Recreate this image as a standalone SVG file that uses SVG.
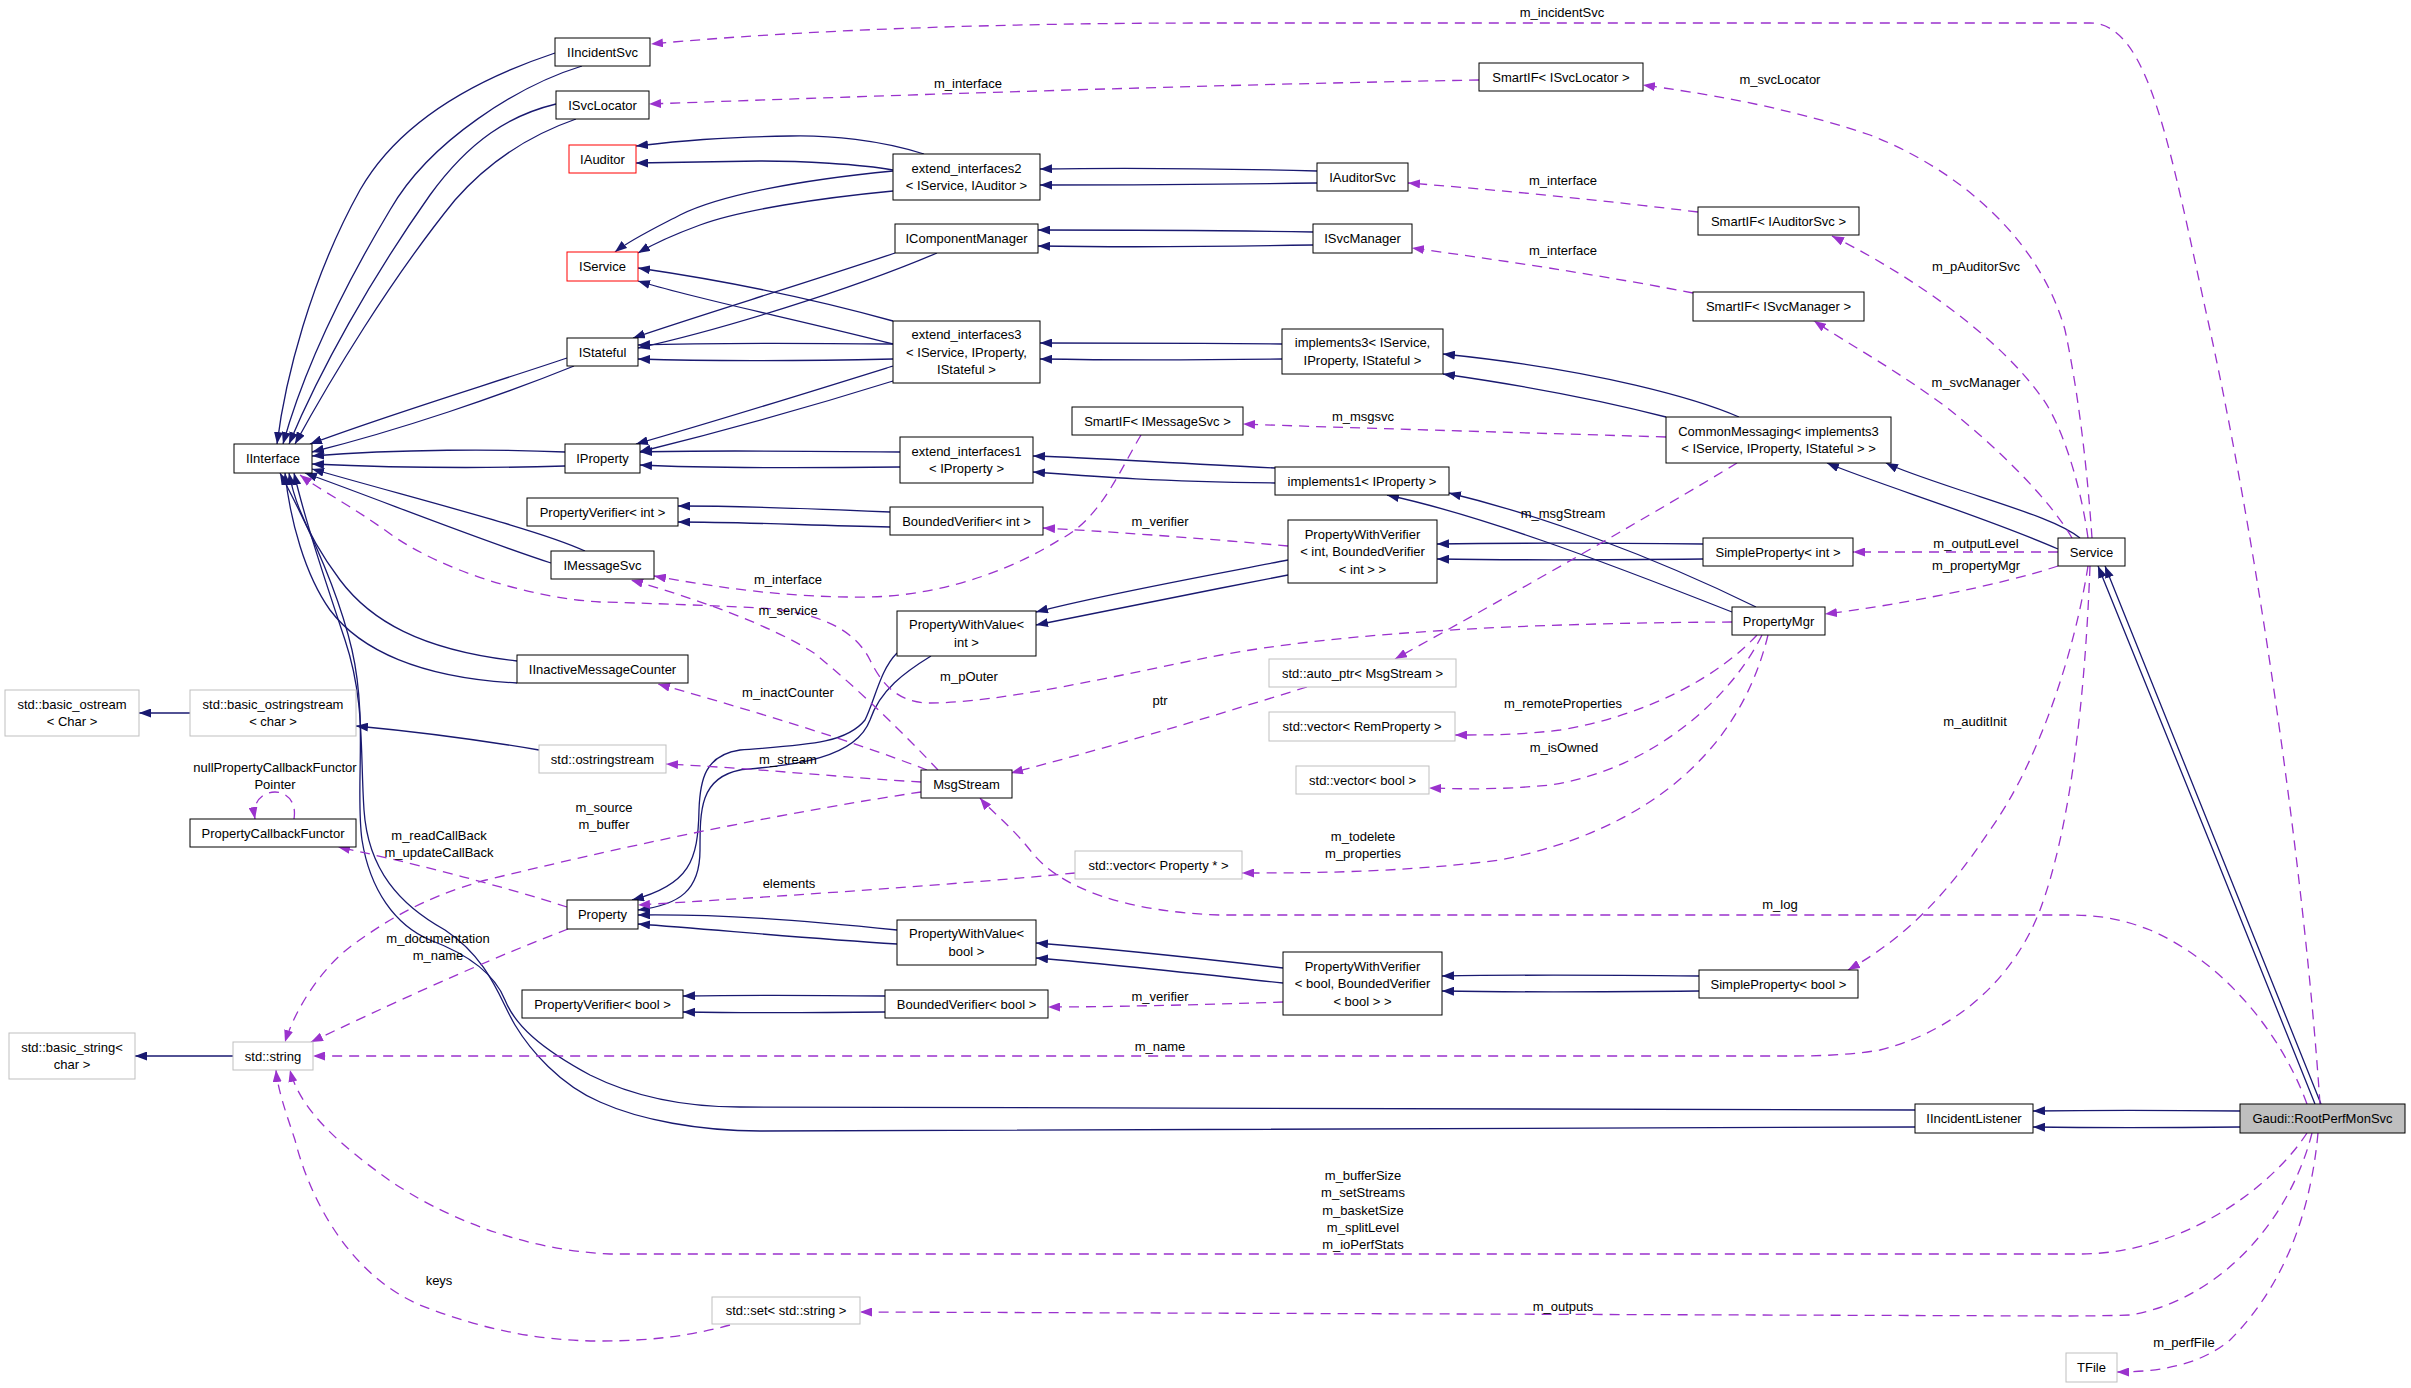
<svg xmlns="http://www.w3.org/2000/svg" width="2411" height="1388" viewBox="0 0 2411 1388">
<defs>
<style>
text{font-family:"Liberation Sans",Arial,sans-serif;font-size:13px;fill:#000}
.n text{text-anchor:middle}
.lb text{text-anchor:middle}
rect{fill:#fff;stroke:#000;stroke-width:1}
.g rect{stroke:#bfbfbf}
.r rect{stroke:#ff0000}
.root rect{fill:#bfbfbf}
.inh path{fill:none;stroke:#191970;stroke-width:1.3;marker-end:url(#an)}
.use path{fill:none;stroke:#9a32cd;stroke-width:1.3;stroke-dasharray:10,7;marker-end:url(#ap)}
</style>
<marker id="an" viewBox="0 0 12 9" refX="12" refY="4.5" markerWidth="12" markerHeight="9" markerUnits="userSpaceOnUse" orient="auto"><path d="M0,0 L12,4.5 L0,9 z" fill="#191970"/></marker>
<marker id="ap" viewBox="0 0 12 9" refX="12" refY="4.5" markerWidth="12" markerHeight="9" markerUnits="userSpaceOnUse" orient="auto"><path d="M0,0 L12,4.5 L0,9 z" fill="#9a32cd"/></marker>
</defs>
<rect x="0" y="0" width="2411" height="1388" style="fill:#fff;stroke:none"/>

<g id="connectors">
<g class="inh">
<path d="M555,53 C480,78 400,120 360,190 C310,280 285,380 277,444"/>
<path d="M582,66 C520,85 430,140 390,210 C330,310 298,390 283,444"/>
<path d="M556,104 C510,115 470,140 430,195 C370,280 320,370 289,444"/>
<path d="M576,119 C530,135 490,160 455,200 C390,280 330,380 295,444"/>
<path d="M567,358 C490,384 390,414 310,444"/>
<path d="M574,366 C500,396 400,430 312,452"/>
<path d="M565,452 C500,449 400,449 312,456"/>
<path d="M565,466 C500,468 400,468 312,464"/>
<path d="M585,551 C540,530 420,500 312,469"/>
<path d="M551,563 C480,540 380,500 305,473"/>
<path d="M517,661 C420,650 370,620 340,580 C310,540 295,505 289,473"/>
<path d="M517,683 C420,678 360,650 330,610 C305,575 290,520 285,473"/>
<path d="M1915,1110 L740,1107 C680,1107 630,1095 590,1075 C540,1048 515,1025 505,1000 C495,975 470,955 430,940 C395,925 370,890 362,840 C355,790 368,720 352,650 C338,590 305,520 280,473"/>
<path d="M1915,1127 L760,1131 C700,1131 640,1120 600,1102 C560,1085 530,1050 515,1025 C500,1000 490,960 445,930 C400,905 368,870 364,810 C360,750 365,700 345,640 C325,580 305,520 294,473"/>
<path d="M924,154 C880,140 830,135 790,136 C720,137 680,141 636,146"/>
<path d="M893,170 C860,164 800,161 760,161 C700,162 660,163 636,163"/>
<path d="M893,171 C800,180 720,195 680,215 C655,228 630,240 615,252"/>
<path d="M893,191 C820,198 740,210 700,225 C670,236 655,243 638,253"/>
<path d="M895,253 C800,285 700,315 633,338"/>
<path d="M937,253 C850,290 720,330 638,348"/>
<path d="M893,321 C800,295 720,280 638,268"/>
<path d="M893,344 C800,320 700,300 638,281"/>
<path d="M893,344 C800,343 700,343 638,345"/>
<path d="M893,359 C800,361 700,361 638,359"/>
<path d="M893,366 C800,395 720,420 636,444"/>
<path d="M893,381 C800,410 720,432 639,452"/>
<path d="M900,452 C800,451 700,450 640,452"/>
<path d="M900,467 C800,468 700,468 640,465"/>
<path d="M1317,171 C1200,168 1100,168 1040,169"/>
<path d="M1317,183 C1200,185 1100,185 1040,185"/>
<path d="M1313,232 C1200,230 1100,230 1038,230"/>
<path d="M1313,245 C1200,247 1100,247 1038,246"/>
<path d="M1282,344 C1200,343 1100,343 1040,343"/>
<path d="M1282,359 C1200,360 1100,360 1040,359"/>
<path d="M1739,417 C1700,400 1600,370 1443,354"/>
<path d="M1666,417 C1600,400 1520,385 1443,374"/>
<path d="M1275,468 C1150,462 1100,458 1033,456"/>
<path d="M1275,483 C1150,481 1100,477 1033,472"/>
<path d="M1756,607 C1650,555 1540,515 1449,493"/>
<path d="M1732,612 C1600,560 1480,515 1387,495"/>
<path d="M1703,544 C1600,543 1500,543 1437,544"/>
<path d="M1703,559 C1600,560 1500,560 1437,559"/>
<path d="M1288,560 C1200,577 1100,595 1036,612"/>
<path d="M1288,575 C1200,592 1100,612 1036,625"/>
<path d="M890,512 C800,508 740,506 678,506"/>
<path d="M890,527 C800,525 740,522 678,522"/>
<path d="M190,713 L139,713"/>
<path d="M539,750 C480,740 420,732 356,726"/>
<path d="M233,1056 L135,1056"/>
<path d="M2080,538 C2060,522 2020,510 1960,490 C1930,480 1900,470 1886,463"/>
<path d="M2058,549 C1980,515 1880,485 1827,463"/>
<path d="M2315,1104 C2250,940 2160,720 2098,566"/>
<path d="M2321,1104 C2256,940 2166,720 2105,566"/>
<path d="M2240,1111 C2150,1110 2100,1110 2033,1111"/>
<path d="M2240,1127 C2150,1128 2100,1128 2033,1127"/>
<path d="M1699,976 C1600,975 1500,975 1442,976"/>
<path d="M1699,991 C1600,992 1500,992 1442,991"/>
<path d="M1283,968 C1180,956 1100,948 1036,943"/>
<path d="M1283,983 C1180,972 1100,963 1036,958"/>
<path d="M885,996 C800,995 740,995 683,996"/>
<path d="M885,1012 C800,1013 740,1013 683,1012"/>
<path d="M897,653 C880,670 875,700 865,720 C845,745 800,745 740,750 C705,755 700,780 699,810 C698,860 690,885 632,900"/>
<path d="M931,656 C905,672 880,690 870,720 C855,760 790,765 740,770 C700,778 700,810 700,850 C700,890 680,905 638,910"/>
<path d="M897,930 C800,920 720,914 638,915"/>
<path d="M897,944 C800,938 720,930 638,924"/>
</g>
<g class="use">
<path d="M2320,1104 C2305,880 2260,560 2210,330 C2170,150 2150,23 2090,23 L1210,23 C1000,23 800,30 651,44"/>
<path d="M1479,80 C1200,85 900,95 649,104"/>
<path d="M2092,538 C2088,480 2080,400 2065,330 C2040,240 1960,170 1870,135 C1780,105 1700,93 1643,85"/>
<path d="M1698,212 C1600,200 1500,190 1408,183"/>
<path d="M2088,538 C2080,480 2060,420 2040,395 C2000,340 1920,280 1832,236"/>
<path d="M1693,293 C1600,275 1500,260 1412,248"/>
<path d="M2072,538 C2050,500 2000,450 1950,410 C1900,372 1850,345 1814,321"/>
<path d="M1666,437 C1500,432 1350,428 1243,424"/>
<path d="M1141,435 C1120,470 1100,520 1059,540 C1020,565 950,595 870,597 C790,598 720,588 654,576"/>
<path d="M938,770 C910,740 860,690 814,653 C770,625 700,600 631,580"/>
<path d="M1732,622 C1550,623 1350,630 1210,657 C1120,675 1000,703 930,703 C895,703 880,680 870,660 C855,630 820,612 760,608 C700,605 640,603 600,602 C530,598 440,570 389,533 C350,505 320,490 300,475"/>
<path d="M1737,463 C1660,510 1520,590 1395,659"/>
<path d="M1307,687 C1200,720 1100,750 1011,773"/>
<path d="M927,770 C850,740 750,710 658,684"/>
<path d="M921,782 C850,778 750,768 666,764"/>
<path d="M921,792 C800,810 650,840 486,880 C420,898 380,925 350,947 C320,970 295,1010 285,1042"/>
<path d="M567,907 C500,885 400,860 338,847"/>
<path d="M568,929 C500,955 420,990 311,1042"/>
<path d="M2090,566 C2085,700 2070,830 2040,910 C2015,975 1960,1030 1880,1050 C1850,1055 1820,1056 1790,1056 L313,1056"/>
<path d="M2088,566 C2075,650 2040,760 1990,830 C1950,890 1910,935 1848,970"/>
<path d="M2058,552 L1853,552"/>
<path d="M2058,566 C2000,585 1900,605 1825,614"/>
<path d="M1757,635 C1720,675 1650,715 1560,730 C1520,735 1490,735 1455,735"/>
<path d="M1762,635 C1730,700 1650,770 1550,785 C1500,790 1460,789 1429,788"/>
<path d="M1768,635 C1740,750 1650,830 1500,860 C1400,873 1300,873 1242,873"/>
<path d="M1075,873 C950,885 800,895 638,905"/>
<path d="M2307,1104 C2280,1030 2220,960 2150,930 C2120,918 2095,915 2070,915 L1220,915 C1130,912 1060,890 1030,850 C1010,825 990,810 980,798"/>
<path d="M2307,1133 C2270,1190 2180,1254 2080,1254 L610,1254 C520,1250 440,1215 389,1180 C340,1145 300,1110 290,1070"/>
<path d="M2312,1133 C2290,1220 2220,1300 2130,1315 C2100,1316 2080,1316 2060,1316 L860,1312"/>
<path d="M730,1325 C690,1336 650,1341 600,1341 C530,1341 470,1325 420,1305 C350,1275 310,1200 295,1140 C285,1110 278,1090 276,1070"/>
<path d="M2318,1133 C2310,1220 2280,1290 2230,1340 C2200,1365 2160,1372 2117,1372"/>
<path d="M1288,546 C1200,538 1100,531 1043,528"/>
<path d="M1283,1002 C1200,1005 1100,1007 1048,1007"/>
<path d="M294,819 C297,800 285,792 275,792 C262,792 252,802 255,819"/>
</g>
<g class="lb">
<text x="1562" y="17">m_incidentSvc</text>
<text x="968" y="88">m_interface</text>
<text x="1780" y="84">m_svcLocator</text>
<text x="1563" y="185">m_interface</text>
<text x="1976" y="271">m_pAuditorSvc</text>
<text x="1563" y="255">m_interface</text>
<text x="1976" y="387">m_svcManager</text>
<text x="1363" y="421">m_msgsvc</text>
<text x="1563" y="518">m_msgStream</text>
<text x="1160" y="526">m_verifier</text>
<text x="1976" y="548">m_outputLevel</text>
<text x="1976" y="570">m_propertyMgr</text>
<text x="788" y="584">m_interface</text>
<text x="788" y="615">m_service</text>
<text x="969" y="681">m_pOuter</text>
<text x="788" y="697">m_inactCounter</text>
<text x="1160" y="705">ptr</text>
<text x="1563" y="708">m_remoteProperties</text>
<text x="1975" y="726">m_auditInit</text>
<text x="1564" y="752">m_isOwned</text>
<text x="788" y="764">m_stream</text>
<text x="275" y="772">nullPropertyCallbackFunctor</text>
<text x="275" y="789">Pointer</text>
<text x="604" y="812">m_source</text>
<text x="604" y="829">m_buffer</text>
<text x="439" y="840">m_readCallBack</text>
<text x="439" y="857">m_updateCallBack</text>
<text x="1363" y="841">m_todelete</text>
<text x="1363" y="858">m_properties</text>
<text x="789" y="888">elements</text>
<text x="1780" y="909">m_log</text>
<text x="438" y="943">m_documentation</text>
<text x="438" y="960">m_name</text>
<text x="1160" y="1001">m_verifier</text>
<text x="1160" y="1051">m_name</text>
<text x="1363" y="1180">m_bufferSize</text>
<text x="1363" y="1197">m_setStreams</text>
<text x="1363" y="1215">m_basketSize</text>
<text x="1363" y="1232">m_splitLevel</text>
<text x="1363" y="1249">m_ioPerfStats</text>
<text x="1563" y="1311">m_outputs</text>
<text x="439" y="1285">keys</text>
<text x="2184" y="1347">m_perfFile</text>
</g>
</g>

<g id="n_IIncidentSvc" class="n"><rect x="555" y="38" width="95" height="28"/><text x="602.5" y="56.5">IIncidentSvc</text></g>
<g id="n_ISvcLocator" class="n"><rect x="556" y="91" width="93" height="28"/><text x="602.5" y="109.5">ISvcLocator</text></g>
<g id="n_IAuditor" class="n r"><rect x="569" y="145" width="67" height="28"/><text x="602.5" y="163.5">IAuditor</text></g>
<g id="n_IService" class="n r"><rect x="567" y="252" width="71" height="29"/><text x="602.5" y="271">IService</text></g>
<g id="n_IStateful" class="n"><rect x="567" y="338" width="71" height="28"/><text x="602.5" y="356.5">IStateful</text></g>
<g id="n_IInterface" class="n"><rect x="234" y="444" width="78" height="29"/><text x="273" y="463">IInterface</text></g>
<g id="n_IProperty" class="n"><rect x="565" y="444" width="75" height="29"/><text x="602.5" y="463">IProperty</text></g>
<g id="n_PropertyVerifierInt" class="n"><rect x="527" y="498" width="151" height="28"/><text x="602.5" y="516.5">PropertyVerifier&lt; int &gt;</text></g>
<g id="n_IMessageSvc" class="n"><rect x="551" y="551" width="103" height="28"/><text x="602.5" y="569.5">IMessageSvc</text></g>
<g id="n_IInactiveMessageCounter" class="n"><rect x="517" y="655" width="171" height="28"/><text x="602.5" y="673.5">IInactiveMessageCounter</text></g>
<g id="n_ostringstream" class="n g"><rect x="539" y="745" width="127" height="28"/><text x="602.5" y="763.5">std::ostringstream</text></g>
<g id="n_Property" class="n"><rect x="567" y="900" width="71" height="29"/><text x="602.5" y="919">Property</text></g>
<g id="n_PropertyVerifierBool" class="n"><rect x="522" y="990" width="161" height="28"/><text x="602.5" y="1008.5">PropertyVerifier&lt; bool &gt;</text></g>

<g id="n_extend_interfaces2" class="n"><rect x="893" y="154" width="147" height="46"/><text x="966.5" y="172.75">extend_interfaces2</text><text x="966.5" y="190.25">&lt; IService, IAuditor &gt;</text></g>
<g id="n_IComponentManager" class="n"><rect x="895" y="224" width="143" height="29"/><text x="966.5" y="243">IComponentManager</text></g>
<g id="n_extend_interfaces3" class="n"><rect x="893" y="321" width="147" height="62"/><text x="966.5" y="339">extend_interfaces3</text><text x="966.5" y="356.5">&lt; IService, IProperty,</text><text x="966.5" y="374">IStateful &gt;</text></g>
<g id="n_extend_interfaces1" class="n"><rect x="900" y="437" width="133" height="46"/><text x="966.5" y="455.75">extend_interfaces1</text><text x="966.5" y="473.25">&lt; IProperty &gt;</text></g>
<g id="n_BoundedVerifierInt" class="n"><rect x="890" y="507" width="153" height="28"/><text x="966.5" y="525.5">BoundedVerifier&lt; int &gt;</text></g>
<g id="n_PropertyWithValueInt" class="n"><rect x="897" y="611" width="139" height="45"/><text x="966.5" y="629.25">PropertyWithValue&lt;</text><text x="966.5" y="646.75">int &gt;</text></g>
<g id="n_MsgStream" class="n"><rect x="921" y="770" width="91" height="28"/><text x="966.5" y="788.5">MsgStream</text></g>
<g id="n_PropertyWithValueBool" class="n"><rect x="897" y="920" width="139" height="45"/><text x="966.5" y="938.25">PropertyWithValue&lt;</text><text x="966.5" y="955.75">bool &gt;</text></g>
<g id="n_BoundedVerifierBool" class="n"><rect x="885" y="990" width="163" height="28"/><text x="966.5" y="1008.5">BoundedVerifier&lt; bool &gt;</text></g>

<g id="n_SmartIF_IMessageSvc" class="n"><rect x="1072" y="407" width="171" height="28"/><text x="1157.5" y="425.5">SmartIF&lt; IMessageSvc &gt;</text></g>
<g id="n_vectorPropertyPtr" class="n g"><rect x="1075" y="851" width="167" height="28"/><text x="1158.5" y="869.5">std::vector&lt; Property * &gt;</text></g>

<g id="n_SmartIF_ISvcLocator" class="n"><rect x="1479" y="63" width="164" height="28"/><text x="1561" y="81.5">SmartIF&lt; ISvcLocator &gt;</text></g>
<g id="n_IAuditorSvc" class="n"><rect x="1317" y="163" width="91" height="28"/><text x="1362.5" y="181.5">IAuditorSvc</text></g>
<g id="n_ISvcManager" class="n"><rect x="1313" y="224" width="99" height="29"/><text x="1362.5" y="243">ISvcManager</text></g>
<g id="n_implements3" class="n"><rect x="1282" y="329" width="161" height="45"/><text x="1362.5" y="347.25">implements3&lt; IService,</text><text x="1362.5" y="364.75">IProperty, IStateful &gt;</text></g>
<g id="n_implements1" class="n"><rect x="1275" y="467" width="174" height="28"/><text x="1362" y="485.5">implements1&lt; IProperty &gt;</text></g>
<g id="n_PWVerifierInt" class="n"><rect x="1288" y="520" width="149" height="63"/><text x="1362.5" y="538.5">PropertyWithVerifier</text><text x="1362.5" y="556">&lt; int, BoundedVerifier</text><text x="1362.5" y="573.5">&lt; int &gt; &gt;</text></g>
<g id="n_auto_ptr" class="n g"><rect x="1269" y="659" width="187" height="28"/><text x="1362.5" y="677.5">std::auto_ptr&lt; MsgStream &gt;</text></g>
<g id="n_vectorRemProperty" class="n g"><rect x="1269" y="712" width="186" height="29"/><text x="1362" y="731">std::vector&lt; RemProperty &gt;</text></g>
<g id="n_vectorBool" class="n g"><rect x="1296" y="766" width="133" height="28"/><text x="1362.5" y="784.5">std::vector&lt; bool &gt;</text></g>
<g id="n_PWVerifierBool" class="n"><rect x="1283" y="952" width="159" height="63"/><text x="1362.5" y="970.5">PropertyWithVerifier</text><text x="1362.5" y="988">&lt; bool, BoundedVerifier</text><text x="1362.5" y="1005.5">&lt; bool &gt; &gt;</text></g>

<g id="n_SmartIF_IAuditorSvc" class="n"><rect x="1698" y="207" width="161" height="28"/><text x="1778.5" y="225.5">SmartIF&lt; IAuditorSvc &gt;</text></g>
<g id="n_SmartIF_ISvcManager" class="n"><rect x="1693" y="292" width="171" height="29"/><text x="1778.5" y="311">SmartIF&lt; ISvcManager &gt;</text></g>
<g id="n_CommonMessaging" class="n"><rect x="1666" y="417" width="225" height="46"/><text x="1778.5" y="435.75">CommonMessaging&lt; implements3</text><text x="1778.5" y="453.25">&lt; IService, IProperty, IStateful &gt; &gt;</text></g>
<g id="n_SimplePropertyInt" class="n"><rect x="1703" y="538" width="150" height="28"/><text x="1778" y="556.5">SimpleProperty&lt; int &gt;</text></g>
<g id="n_PropertyMgr" class="n"><rect x="1732" y="607" width="93" height="28"/><text x="1778.5" y="625.5">PropertyMgr</text></g>
<g id="n_SimplePropertyBool" class="n"><rect x="1699" y="970" width="159" height="28"/><text x="1778.5" y="988.5">SimpleProperty&lt; bool &gt;</text></g>
<g id="n_Service" class="n"><rect x="2058" y="538" width="67" height="28"/><text x="2091.5" y="556.5">Service</text></g>
<g id="n_IIncidentListener" class="n"><rect x="1915" y="1104" width="118" height="29"/><text x="1974" y="1123">IIncidentListener</text></g>
<g id="n_RootPerfMonSvc" class="n root"><rect x="2240" y="1104" width="165" height="29"/><text x="2322.5" y="1123">Gaudi::RootPerfMonSvc</text></g>
<g id="n_TFile" class="n g"><rect x="2066" y="1353" width="51" height="29"/><text x="2091.5" y="1372">TFile</text></g>

<g id="n_basic_ostream" class="n g"><rect x="5" y="690" width="134" height="46"/><text x="72" y="708.75">std::basic_ostream</text><text x="72" y="726.25">&lt; Char &gt;</text></g>
<g id="n_basic_ostringstream" class="n g"><rect x="190" y="690" width="166" height="46"/><text x="273" y="708.75">std::basic_ostringstream</text><text x="273" y="726.25">&lt; char &gt;</text></g>
<g id="n_PropertyCallbackFunctor" class="n"><rect x="190" y="819" width="166" height="28"/><text x="273" y="837.5">PropertyCallbackFunctor</text></g>
<g id="n_basic_string" class="n g"><rect x="9" y="1033" width="126" height="46"/><text x="72" y="1051.75">std::basic_string&lt;</text><text x="72" y="1069.25">char &gt;</text></g>
<g id="n_string" class="n g"><rect x="233" y="1042" width="80" height="28"/><text x="273" y="1060.5">std::string</text></g>
<g id="n_set_string" class="n g"><rect x="712" y="1297" width="148" height="27"/><text x="786" y="1315">std::set&lt; std::string &gt;</text></g>
</svg>
